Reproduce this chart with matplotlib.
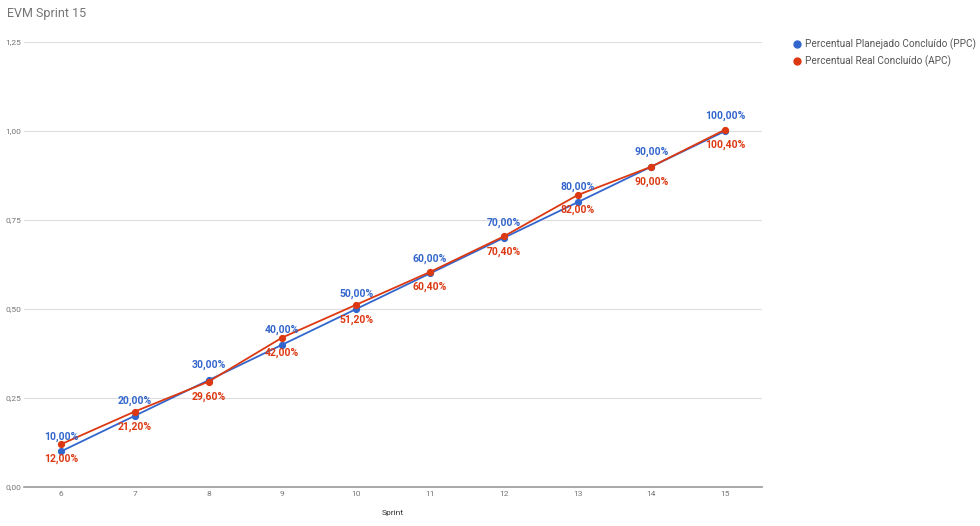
import matplotlib
matplotlib.use("Agg")
import matplotlib.pyplot as plt
from matplotlib.lines import Line2D

plt.rcParams['font.family'] = ['Roboto', 'DejaVu Sans']

sprints = ['6', '7', '8', '9', '10', '11', '12', '13', '14', '15']
ppc = [0.10, 0.20, 0.30, 0.40, 0.50, 0.60, 0.70, 0.80, 0.90, 1.00]
apc = [0.12, 0.212, 0.296, 0.42, 0.512, 0.604, 0.704, 0.82, 0.90, 1.004]
y_ticks = [0, 0.25, 0.5, 0.75, 1.0, 1.25]

blue = '#3366cc'
red = '#dc3912'

fig = plt.figure(figsize=(9.8, 5.26), dpi=100)
ax = fig.add_axes([0.0245, 0.0741, 0.7531, 0.8459])

x = list(range(len(sprints)))
ax.plot(x, ppc, color=blue, lw=1.3, marker='o', ms=4.2, zorder=3)
ax.plot(x, apc, color=red, lw=1.3, marker='o', ms=4.2, zorder=3)

def pct(v):
    return f"{v*100:.2f}%".replace('.', ',')

for i in x:
    ax.annotate(pct(ppc[i]), (i, ppc[i]), xytext=(0, 10.8), textcoords='offset points',
                ha='center', va='center', color=blue, fontsize=7.5, fontweight='bold')
    ax.annotate(pct(apc[i]), (i, apc[i]), xytext=(0, -10.8), textcoords='offset points',
                ha='center', va='center', color=red, fontsize=7.5, fontweight='bold')

ax.set_xlim(-0.5, len(sprints) - 0.5)
ax.set_ylim(0, 1.25)
ax.set_xticks(x)
ax.set_xticklabels(sprints)
ax.set_yticks(y_ticks)
ax.set_yticklabels([f"{v:.2f}".replace('.', ',') for v in y_ticks])
ax.tick_params(axis='y', length=0, labelsize=6, colors='#757575', pad=2)
ax.tick_params(axis='x', length=0, labelsize=6, colors='#757575', pad=3)
ax.grid(axis='y', color='#dddddd', lw=0.8)
ax.set_axisbelow(True)
for s in ['top', 'right', 'left']:
    ax.spines[s].set_visible(False)
ax.spines['bottom'].set_color('#999999')
ax.spines['bottom'].set_linewidth(1.2)
ax.set_xlabel('Sprint', fontsize=6, color='#333333', labelpad=9)

fig.text(0.007, 0.975, 'EVM Sprint 15', fontsize=9, color='#757575', va='center', ha='left')

handles = [Line2D([], [], ls='', marker='o', ms=5, color=blue),
           Line2D([], [], ls='', marker='o', ms=5, color=red)]
fig.legend(handles, ['Percentual Planejado Concluído (PPC)', 'Percentual Real Concluído (APC)'],
           loc='upper left', bbox_to_anchor=(0.808, 0.926), frameon=False, fontsize=7.2,
           labelcolor='#555555', handletextpad=0.3, labelspacing=0.5, handlelength=1.0,
           borderaxespad=0, borderpad=0)

fig.savefig('out.png', dpi=100)
